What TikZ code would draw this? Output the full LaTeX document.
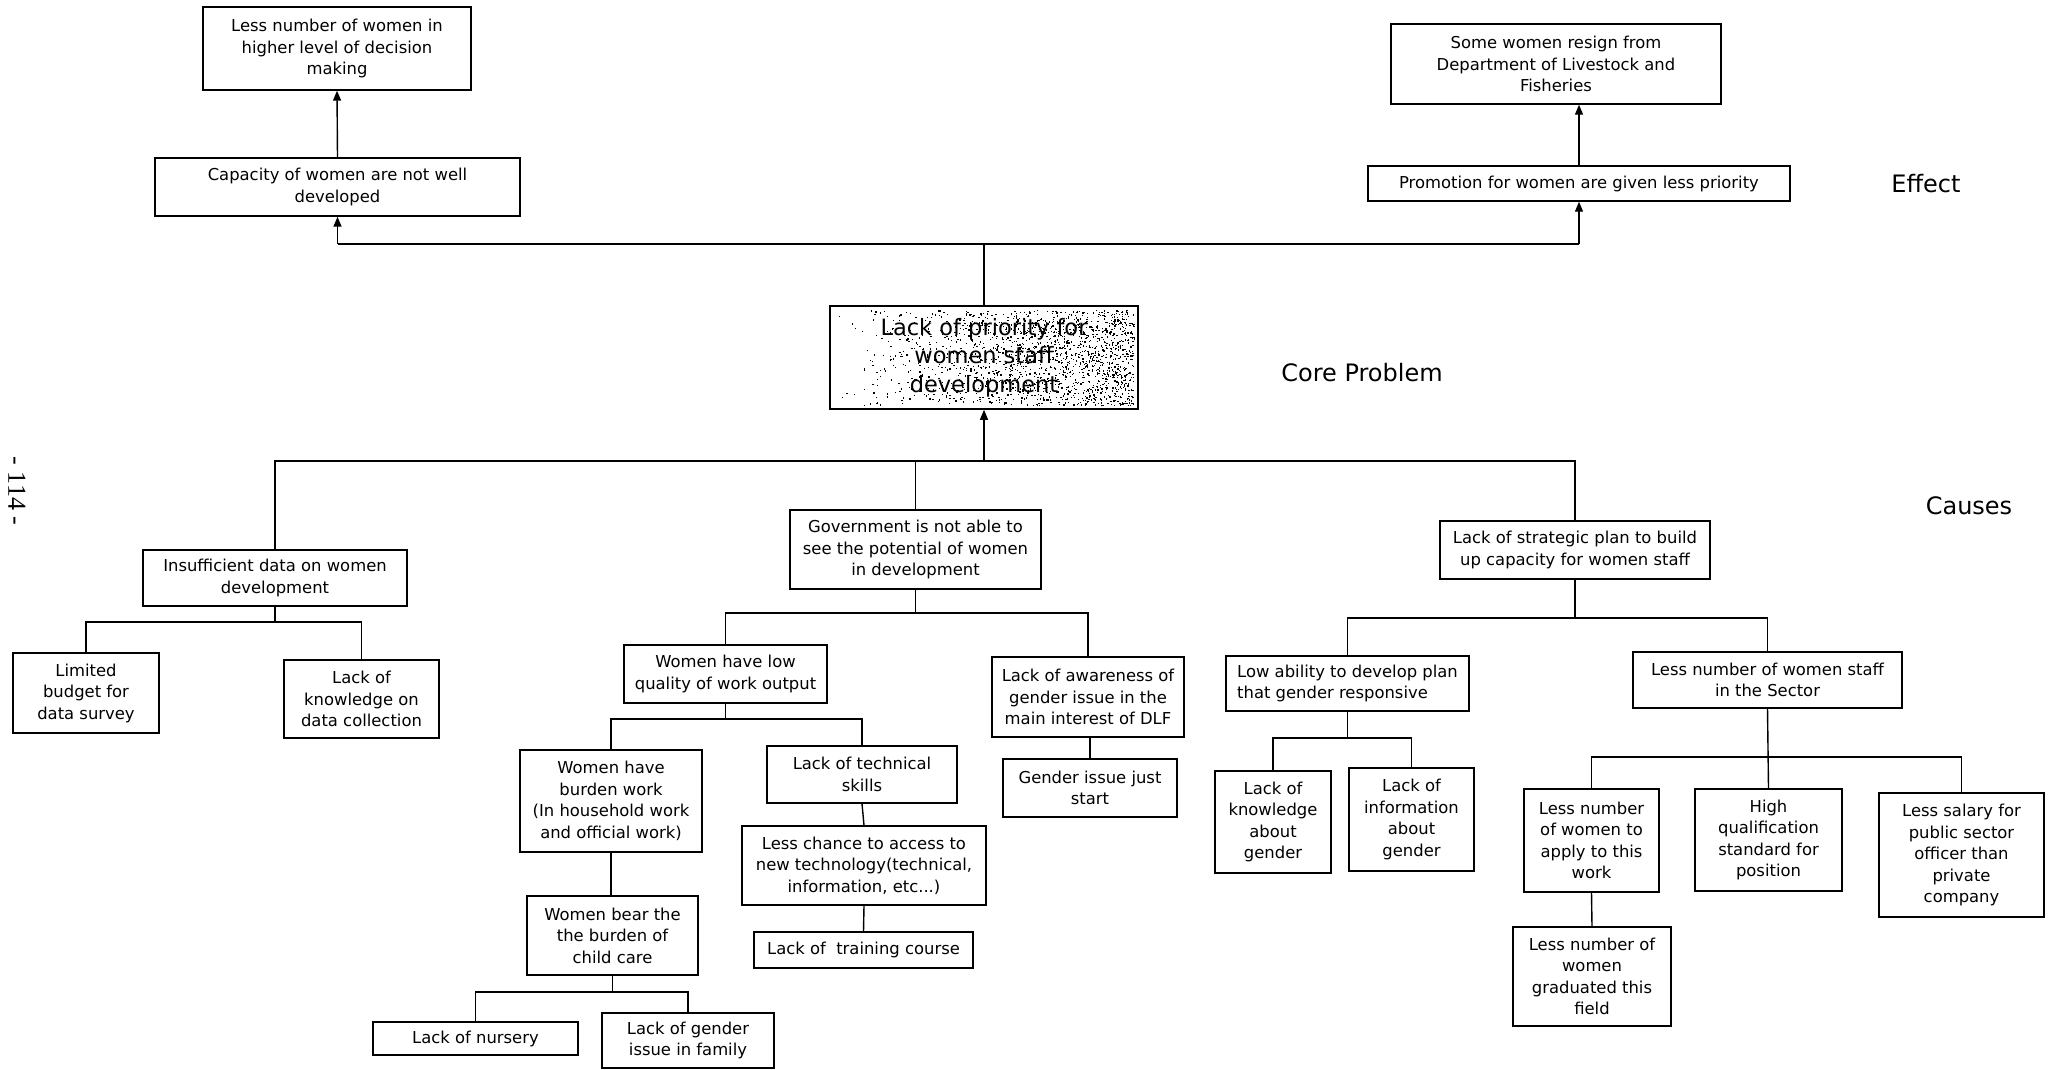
\documentclass[tikz,border=0pt]{standalone}
\usepackage{fontspec}
\setmainfont{DejaVu Sans}
\newfontfamily\pagefont{Liberation Serif}
\usetikzlibrary{arrows.meta}
\begin{document}
\begin{tikzpicture}[x=1pt,y=-1pt,
  box/.style={draw, line width=1.4pt, align=center, inner sep=2pt,
              font=\fontsize{16.4}{21.5}\selectfont},
  link/.style={line width=1.4pt},
  arr/.style={line width=1.4pt, -{Triangle[length=10pt,width=8pt]}},
  lbl/.style={font=\fontsize{24}{28}\selectfont}]
\useasboundingbox (0,0) rectangle (2056,1069);

% ---------- effects ----------
\node[box, minimum width=268, minimum height=83] (lnd) at (337,48.5)
  {Less number of women in\\higher level of  decision\\making};
\node[box, minimum width=365, minimum height=58] (cap) at (337.5,187)
  {Capacity of women are not well\\developed};
\node[box, minimum width=330, minimum height=80] (res) at (1556,64)
  {Some women resign from\\Department of Livestock and\\Fisheries};
\node[box, minimum width=422, minimum height=35] (pro) at (1579,183.5)
  {Promotion for women are given less priority};

% ---------- core problem (stippled box) ----------
\pgfmathsetseed{11}
\foreach \i in {1,...,1700} {
  \pgfmathsetmacro\px{834+300*(rnd)^0.45}
  \pgfmathsetmacro\py{310+95*rnd}
  \fill (\px,\py) rectangle +(1.3,1.3);
}
\node[draw, line width=1.6pt, minimum width=308, minimum height=103, align=center,
      inner sep=2pt, font=\fontsize{22.5}{28.5}\selectfont] (core) at (984,357.5)
  {Lack of priority for\\women staff\\development};

% ---------- first-level causes ----------
\node[box, minimum width=264, minimum height=56] (ins) at (275,578)
  {Insufficient data on women\\development};
\node[box, minimum width=251, minimum height=79] (gov) at (915.5,549.5)
  {Government is not able to\\see the potential of women\\in development};
\node[box, minimum width=270, minimum height=58] (str) at (1575,550)
  {Lack of strategic plan to build\\up capacity for women staff};

% ---------- data branch ----------
\node[box, minimum width=146, minimum height=80] (lim) at (86,693)
  {Limited\\budget for\\data survey};
\node[box, minimum width=155, minimum height=78] (kdc) at (361.5,699)
  {Lack of\\knowledge on\\data collection};

% ---------- government branch ----------
\node[box, minimum width=203, minimum height=58] (wlq) at (725.5,674)
  {Women have low\\quality of work output};
\node[box, minimum width=192, minimum height=80] (awa) at (1088,697)
  {Lack of awareness of\\gender issue in the\\main interest of DLF};
\node[box, minimum width=174, minimum height=58] (gis) at (1090,788)
  {Gender issue just\\start};
\node[box, minimum width=182, minimum height=102] (bur) at (611,801)
  {Women have\\burden work\\(In household work\\and official work)};
\node[box, minimum width=190, minimum height=57] (tec) at (862,774.5)
  {Lack of technical\\skills};
\node[box, minimum width=244, minimum height=79] (lch) at (864,865.5)
  {Less chance to access to\\new technology(technical,\\information, etc...)};
\node[box, minimum width=219, minimum height=36] (trn) at (863.5,950)
  {Lack of~ training course};
\node[box, minimum width=171, minimum height=79] (chc) at (612.5,935.5)
  {Women bear the\\the burden of\\child care};
\node[box, minimum width=205, minimum height=33] (nur) at (475.5,1038.5)
  {Lack of nursery};
\node[box, minimum width=172, minimum height=55] (fam) at (688,1040.5)
  {Lack of gender\\issue in family};

% ---------- strategic plan branch ----------
\node[box, align=left, minimum width=243, minimum height=55] (low) at (1347.5,683.5)
  {Low ability to develop plan\\that gender responsive};
\node[box, minimum width=269, minimum height=56] (lsf) at (1767.5,680)
  {Less number of women staff\\in the Sector};
\node[box, minimum width=116, minimum height=102] (kag) at (1273,822)
  {Lack of\\knowledge\\about\\gender};
\node[box, minimum width=125, minimum height=103] (iag) at (1411.5,819.5)
  {Lack of\\information\\about\\gender};
\node[box, minimum width=135, minimum height=103] (lna) at (1591.5,840.5)
  {Less number\\of women to\\apply to this\\work};
\node[box, minimum width=147, minimum height=102] (hq) at (1768.5,840)
  {High\\qualification\\standard  for\\position};
\node[box, minimum width=165, minimum height=124] (sal) at (1961.5,855)
  {Less salary for\\public sector\\officer than\\private\\company};
\node[box, minimum width=158, minimum height=99] (grd) at (1592,976.5)
  {Less number of\\women\\graduated this\\field};

% ---------- side labels ----------
\node[lbl] (effect) at (1926,184) {Effect};
\node[lbl] (corelbl) at (1362,373) {Core Problem};
\node[lbl] (causes) at (1969,506) {Causes};
\node[rotate=-90, font=\pagefont\fontsize{26}{28}\selectfont] (page) at (17,491) {- 114 -};

% ---------- bus levels ----------
\coordinate (eb) at (0,244);
\coordinate (cb) at (0,461);
\coordinate (b1) at (0,622);
\coordinate (b2) at (0,613);
\coordinate (b3) at (0,719);
\coordinate (b4) at (0,992);
\coordinate (b5) at (0,618);
\coordinate (b6) at (0,738);
\coordinate (b7) at (0,757);

% ---------- effect connectors ----------
\draw[link] (core.north) -- (core.north |- eb);
\draw[link] (cap.south |- eb) -- (pro.south |- eb);
\draw[arr] (cap.south |- eb) -- (cap.south);
\draw[arr] (pro.south |- eb) -- (pro.south);
\draw[arr] (cap.north) -- (lnd.south);
\draw[arr] (pro.north) -- (pro.north |- res.south);

% ---------- cause connectors ----------
\draw[link] (ins.north) |- (str.north |- cb) -- (str.north);
\draw[link] (gov.north) -- (gov.north |- cb);
\draw[arr] (core.south |- cb) -- (core.south);

\draw[link] (ins.south) -- (ins.south |- b1);
\draw[link] (lim.north) |- (kdc.north |- b1) -- (kdc.north);

\draw[link] (gov.south) -- (gov.south |- b2);
\draw[link] (wlq.north) |- (awa.north |- b2) -- (awa.north);
\draw[link] (awa.south) -- (awa.south -| gis.north) -- (gis.north);

\draw[link] (wlq.south) -- (wlq.south |- b3);
\draw[link] (bur.north) |- (tec.north |- b3) -- (tec.north);
\draw[link] (bur.south) -- (bur.south |- chc.north);
\draw[link] (tec.south) -- (lch.north);
\draw[link] (lch.south) -- (trn.north);

\draw[link] (chc.south) -- (chc.south |- b4);
\draw[link] (nur.north) |- (fam.north |- b4) -- (fam.north);

\draw[link] (str.south) -- (str.south |- b5);
\draw[link] (low.north) |- (lsf.north |- b5) -- (lsf.north);

\draw[link] (low.south) -- (low.south |- b6);
\draw[link] (kag.north) |- (iag.north |- b6) -- (iag.north);

\draw[link] (lsf.south) -- (hq.north);
\draw[link] (lna.north) |- (sal.north |- b7) -- (sal.north);
\draw[link] (lna.south) -- (grd.north);
\end{tikzpicture}
\end{document}
